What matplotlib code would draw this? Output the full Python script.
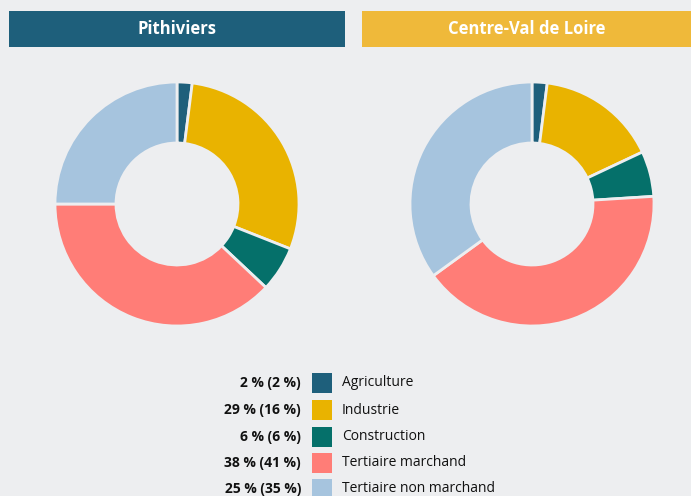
import matplotlib.pyplot as plt
from matplotlib.patches import Rectangle

plt.rcParams['font.family'] = ['Open Sans', 'DejaVu Sans']

categories = ['Agriculture', 'Industrie', 'Construction', 'Tertiaire marchand', 'Tertiaire non marchand']
pithiviers = [2, 29, 6, 38, 25]
centre = [2, 16, 6, 41, 35]
titles = ['Pithiviers', 'Centre-Val de Loire']
colors = ['#1e5f7b', '#e9b300', '#05706a', '#ff7d77', '#a6c4de']
title_colors = ['#1e5f7b', '#efb93a']
bg = '#edeef0'

W, H = 691, 496
fig = plt.figure(figsize=(W / 100, H / 100), dpi=100, facecolor=bg)

# fond en coordonnées pixel
base = fig.add_axes([0, 0, 1, 1])
base.set_xlim(0, W)
base.set_ylim(H, 0)
base.axis('off')

# bandeaux de titre
boxes = [(9, 345), (362, 691)]
for (x0, x1), t, c in zip(boxes, titles, title_colors):
    base.add_patch(Rectangle((x0, 11), x1 - x0, 36, color=c, lw=0))
    base.text((x0 + x1) / 2, 29.5, t, color='white', fontsize=12, fontweight='bold',
              ha='center', va='center')

# donuts
centers = [(177, 204), (532, 204)]
r = 122
for (cx, cy), vals in zip(centers, [pithiviers, centre]):
    ax = fig.add_axes([(cx - r) / W, (H - cy - r) / H, 2 * r / W, 2 * r / H])
    ax.pie(vals, colors=colors, startangle=90, counterclock=False, radius=1,
           wedgeprops=dict(width=0.5, edgecolor=bg, linewidth=2, joinstyle='round'))
    ax.set_xlim(-1, 1)
    ax.set_ylim(-1, 1)
    ax.set_aspect('equal')
    ax.axis('off')

# légende
rows_y = [383, 410, 437, 463, 489]
for y, cat, a, b, c in zip(rows_y, categories, pithiviers, centre, colors):
    base.text(301, y, f'{a} % ({b} %)', fontsize=10, fontweight='bold',
              ha='right', va='center', color='#111111')
    base.add_patch(Rectangle((312, y - 10), 20, 20, color=c, lw=0))
    base.text(342, y, cat, fontsize=10, ha='left', va='center', color='#111111')

fig.savefig('out.png', dpi=100, facecolor=bg)
